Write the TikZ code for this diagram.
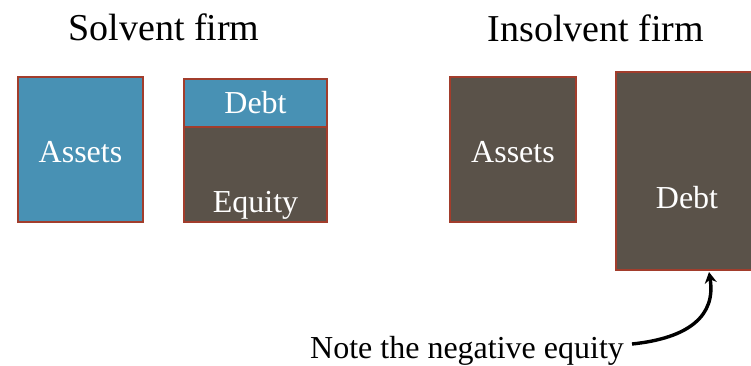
\documentclass[tikz,border=0pt]{standalone}
\usepackage{fontspec}
\setmainfont{Liberation Serif}
\usepackage{xcolor}
\usetikzlibrary{positioning,arrows.meta}
\definecolor{sheetblue}{HTML}{4891B4}
\definecolor{sheetgray}{HTML}{5A5249}
\definecolor{sheetedge}{HTML}{A23D2C}
\tikzset{
title/.style={font=\fontsize{38}{40}\selectfont, inner sep=0pt},
word/.style={font=\fontsize{32}{34}\selectfont, text=white, inner sep=0pt},
blue sheet/.style={fill=sheetblue, draw=sheetedge, line width=1.3pt},
gray sheet/.style={fill=sheetgray, draw=sheetedge, line width=1.3pt}
}
\newcommand{\sheet}[3]{node[#1, minimum width=#2, minimum height=#3, inner sep=0pt]{}}

\begin{document}
\begin{tikzpicture}[x=1pt,y=-1pt]
\useasboundingbox (0,0) rectangle (751,365);

% solvent firm
\node[title, anchor=base] (solv) at (164,40) {Solvent firm};
\path (80.5,149.5) \sheet{blue sheet}{125pt}{145pt} coordinate (sAssets);
\node[word] (sA) at (80.5,152) {Assets};
\path (255.5,103) \sheet{blue sheet}{143pt}{48pt} coordinate (sDebt);
\path (255.5,174.5) \sheet{gray sheet}{143pt}{95pt} coordinate (sEquity);
\node[word] (sD) at (sDebt) {Debt};
\node[word, anchor=base] (sE) at (255.5,212) {Equity};

% insolvent firm
\node[title, anchor=base] (insolv) at (596,41) {Insolvent firm};
\path (513,149.5) \sheet{gray sheet}{126pt}{145pt} coordinate (iAssets);
\node[word] (iA) at (513,152) {Assets};
\path (684,171) \sheet{gray sheet}{136pt}{198pt} coordinate (iDebt);
\node[word] (iD) at (687,198) {Debt};

% note
\node[word, text=black, anchor=base west] (note) at (310,358) {Note the negative equity};
\coordinate (start) at (632,344);
\coordinate (tip) at (709,272);
\draw[line width=3.4pt, -{Stealth[length=11pt,width=12pt]}]
  (start) .. controls (690,338) and (716,315) .. (tip);
\end{tikzpicture}
\end{document}
